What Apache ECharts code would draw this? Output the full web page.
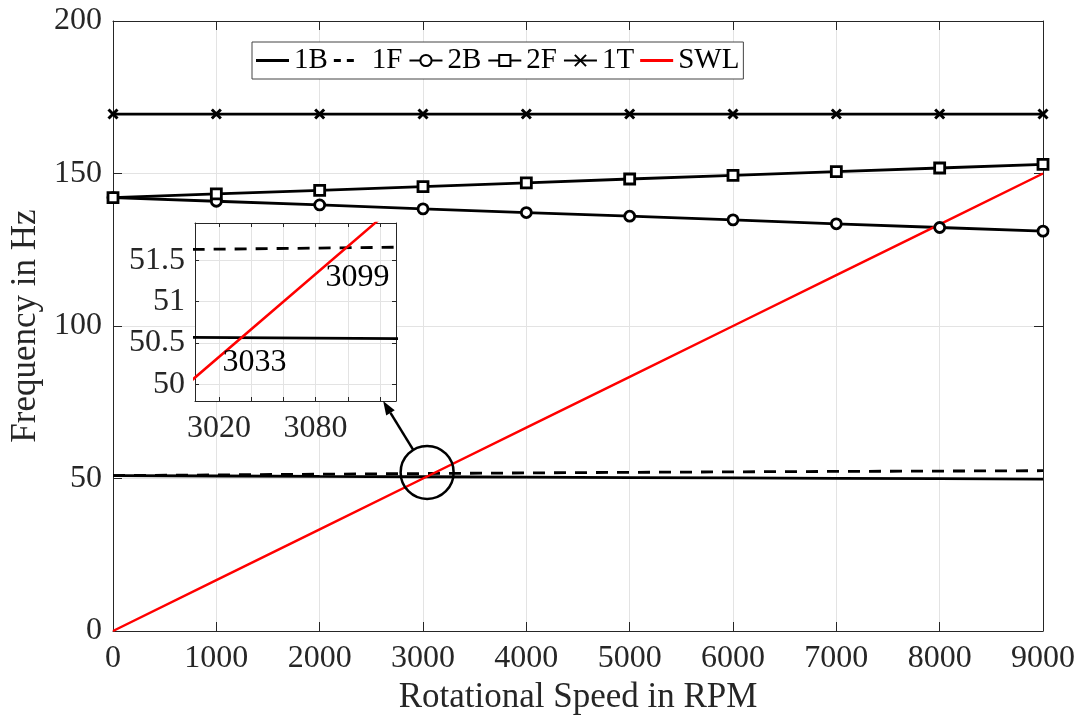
<!DOCTYPE html>
<html>
<head>
<meta charset="utf-8">
<script src="https://cdn.jsdelivr.net/npm/echarts@6/dist/echarts.min.js"></script>
<style>
  html, body { margin: 0; padding: 0; background: #ffffff; }
  #chart { width: 1079px; height: 720px; }
</style>
</head>
<body>
<div id="chart"></div>
<script>
// Campbell diagram: natural frequencies vs rotational speed
const rpm  = [0, 1000, 2000, 3000, 4000, 5000, 6000, 7000, 8000, 9000];
const f1B  = [50.95, 50.82, 50.69, 50.57, 50.44, 50.31, 50.18, 50.06, 49.93, 49.80];
const f1F  = [50.95, 51.18, 51.41, 51.63, 51.84, 52.02, 52.18, 52.32, 52.44, 52.55];
const f2B  = [142.1, 140.9, 139.7, 138.4, 137.2, 136.0, 134.8, 133.5, 132.3, 131.1];
const f2F  = [142.1, 143.3, 144.5, 145.7, 146.9, 148.2, 149.4, 150.6, 151.8, 153.0];
const f1T  = [169.5, 169.5, 169.5, 169.5, 169.5, 169.5, 169.5, 169.5, 169.5, 169.5];
const fSWL = [0, 16.67, 33.33, 50, 66.67, 83.33, 100, 116.67, 133.33, 150];

const seriesNames = ['1B', '1F', '2B', '2F', '1T', 'SWL'];

// zoomed window around the first-mode crossings
const insetXRange  = [3005, 3130];
const insetYRange  = [49.8, 51.95];
const insetXTicks  = [3020, 3040, 3060, 3080, 3100, 3120];
const insetXLabels = [3020, 3080];
const insetYTicks  = [50, 50.5, 51, 51.5];
const crossLabels  = [
  { text: '3033', at: [3042, 50.26] },
  { text: '3099', at: [3106, 51.29] }
];
const zoomCircleCenter = [3040, 52];
const arrowTipAt = [3122, 49.8];

const FONT = '"Liberation Serif", "Times New Roman", serif';
const INK = '#262626';
const GRID = '#e3e3e3';
const DASH = [12, 9];

const pairs = (ys) => rpm.map((x, i) => [x, ys[i]]);
const plain = (v) => String(v);

const crossSym = 'path://M0,0L10,10M10,0L0,10';
// legend swatches for the plain and dashed lines
const solidIcon  = 'path://M0,5.6H33V8.4H0Z';
const dashedIcon = 'path://M0,0Z M33,14Z M0,5.6H7V8.4H0Z M13,5.6H20V8.4H13Z';

function mainAxisX(pos, showLabel) {
  return {
    type: 'value', gridIndex: 0, position: pos, min: 0, max: 9000, interval: 1000,
    axisLine: { show: true, onZero: false, lineStyle: { color: INK, width: 1 } },
    axisTick: { show: true, inside: true, length: 9, lineStyle: { color: INK, width: 1 } },
    axisLabel: { show: showLabel, formatter: plain, color: INK, fontFamily: FONT, fontSize: 32, margin: 12 },
    splitLine: { show: showLabel, lineStyle: { color: GRID, width: 1 } },
    name: showLabel ? 'Rotational Speed in RPM' : '',
    nameLocation: 'middle', nameGap: 32,
    nameTextStyle: { color: INK, fontFamily: FONT, fontSize: 35 }
  };
}
function mainAxisY(pos, showLabel) {
  return {
    type: 'value', gridIndex: 0, position: pos, min: 0, max: 200, interval: 50,
    axisLine: { show: true, onZero: false, lineStyle: { color: INK, width: 1 } },
    axisTick: { show: true, inside: true, length: 9, lineStyle: { color: INK, width: 1 } },
    axisLabel: { show: showLabel, formatter: plain, color: INK, fontFamily: FONT, fontSize: 32, margin: 11 },
    splitLine: { show: showLabel, lineStyle: { color: GRID, width: 1 } },
    name: showLabel ? 'Frequency in Hz' : '',
    nameLocation: 'middle', nameGap: 70, nameRotate: 90,
    nameTextStyle: { color: INK, fontFamily: FONT, fontSize: 35 }
  };
}
function insetAxisX(pos, showLabel) {
  return {
    type: 'value', gridIndex: 1, position: pos, min: insetXRange[0], max: insetXRange[1], z: 3,
    axisLine: { show: true, onZero: false, lineStyle: { color: INK, width: 1 } },
    axisTick: { show: true, inside: true, length: 4, customValues: insetXTicks, lineStyle: { color: INK, width: 1 } },
    axisLabel: { show: showLabel, customValues: insetXLabels, formatter: plain, color: INK, fontFamily: FONT, fontSize: 32, margin: 12 },
    splitLine: { show: showLabel, lineStyle: { color: GRID, width: 1 } }
  };
}
function insetAxisY(pos, showLabel) {
  return {
    type: 'value', gridIndex: 1, position: pos, min: insetYRange[0], max: insetYRange[1], z: 3,
    axisLine: { show: true, onZero: false, lineStyle: { color: INK, width: 1 } },
    axisTick: { show: true, inside: true, length: 4, customValues: insetYTicks, lineStyle: { color: INK, width: 1 } },
    axisLabel: { show: showLabel, customValues: insetYTicks, formatter: plain, color: INK, fontFamily: FONT, fontSize: 32, margin: 10 },
    splitLine: { show: showLabel, lineStyle: { color: GRID, width: 1 } }
  };
}

const lineBase = { type: 'line', animation: false, clip: true, z: 4 };

const mainSeries = [
  Object.assign({}, lineBase, { name: '1B', data: pairs(f1B), symbol: 'none',
    lineStyle: { color: '#000', width: 2.8 }, itemStyle: { color: '#000' } }),
  Object.assign({}, lineBase, { name: '1F', data: pairs(f1F), symbol: 'none',
    lineStyle: { color: '#000', width: 2.8, type: DASH }, itemStyle: { color: '#000' } }),
  Object.assign({}, lineBase, { name: '2B', data: pairs(f2B), symbol: 'circle', symbolSize: 10,
    lineStyle: { color: '#000', width: 2.8 }, itemStyle: { color: '#fff', borderColor: '#000', borderWidth: 2.8 } }),
  Object.assign({}, lineBase, { name: '2F', data: pairs(f2F), symbol: 'rect', symbolSize: 10,
    lineStyle: { color: '#000', width: 2.8 }, itemStyle: { color: '#fff', borderColor: '#000', borderWidth: 2.8 } }),
  Object.assign({}, lineBase, { name: '1T', data: pairs(f1T), symbol: crossSym, symbolSize: 9,
    lineStyle: { color: '#000', width: 2.8 }, itemStyle: { color: '#000', borderColor: '#000', borderWidth: 3 } }),
  Object.assign({}, lineBase, { name: 'SWL', data: pairs(fSWL), symbol: 'none',
    lineStyle: { color: '#ff0000', width: 2.5 }, itemStyle: { color: '#ff0000' } })
];
mainSeries.forEach(s => { s.xAxisIndex = 0; s.yAxisIndex = 0; });

const insetSeries = [
  Object.assign({}, lineBase, { name: '1B', data: pairs(f1B), symbol: 'none', xAxisIndex: 2, yAxisIndex: 2, z: 6,
    lineStyle: { color: '#000', width: 2.8 } }),
  Object.assign({}, lineBase, { name: '1F', data: pairs(f1F), symbol: 'none', xAxisIndex: 2, yAxisIndex: 2, z: 6,
    lineStyle: { color: '#000', width: 2.8, type: DASH } }),
  Object.assign({}, lineBase, { name: 'SWL', data: pairs(fSWL), symbol: 'none', xAxisIndex: 2, yAxisIndex: 2, z: 6,
    lineStyle: { color: '#ff0000', width: 2.5 } })
];

const chart = echarts.init(document.getElementById('chart'), null, { renderer: 'canvas' });

chart.setOption({
  animation: false,
  backgroundColor: '#ffffff',
  textStyle: { fontFamily: FONT },
  grid: [
    { left: 109, right: 36, top: 21, bottom: 89, containLabel: false },
    { left: 195, top: 223, width: 201, height: 178, show: true, backgroundColor: '#ffffff',
      borderWidth: 0, z: 2 }
  ],
  xAxis: [mainAxisX('bottom', true), mainAxisX('top', false), insetAxisX('bottom', true), insetAxisX('top', false)],
  yAxis: [mainAxisY('left', true), mainAxisY('right', false), insetAxisY('left', true), insetAxisY('right', false)],
  legend: {
    data: [
      { name: '1B', icon: solidIcon },
      { name: '1F', icon: dashedIcon },
      { name: '2B' },
      { name: '2F' },
      { name: '1T' },
      { name: 'SWL', icon: solidIcon }
    ],
    left: 252, top: 42,
    itemWidth: 33, itemHeight: 14, itemGap: 6,
    padding: [4, 4, 4, 4],
    backgroundColor: '#ffffff',
    borderColor: '#444444', borderWidth: 1, borderRadius: 0,
    textStyle: { color: '#000', fontFamily: FONT, fontSize: 29 },
    selectedMode: false
  },
  series: mainSeries.concat(insetSeries)
});

// Annotations placed through the axes' own scales
function annotate() {
  const c = chart.convertToPixel({ xAxisIndex: 0, yAxisIndex: 0 }, zoomCircleCenter);
  const tip = chart.convertToPixel({ xAxisIndex: 2, yAxisIndex: 2 }, arrowTipAt);
  const r = 26.5;
  const dx = tip[0] - c[0], dy = tip[1] - c[1];
  const len = Math.sqrt(dx * dx + dy * dy);
  const ux = dx / len, uy = dy / len;
  const start = [c[0] + ux * r, c[1] + uy * r];
  const headLen = 14, headHalf = 5;
  const base = [tip[0] - ux * headLen, tip[1] - uy * headLen];
  const px = -uy, py = ux;
  const elements = [
    { type: 'circle', z: 100, shape: { cx: c[0], cy: c[1], r: r },
      style: { fill: 'none', stroke: '#000', lineWidth: 2.5 } },
    { type: 'line', z: 100, shape: { x1: start[0], y1: start[1], x2: base[0], y2: base[1] },
      style: { stroke: '#000', lineWidth: 2.5 } },
    { type: 'polygon', z: 100, shape: { points: [tip, [base[0] + px * headHalf, base[1] + py * headHalf], [base[0] - px * headHalf, base[1] - py * headHalf]] },
      style: { fill: '#000' } }
  ];
  crossLabels.forEach(l => {
    const p = chart.convertToPixel({ xAxisIndex: 2, yAxisIndex: 2 }, l.at);
    elements.push({ type: 'text', z: 100, x: p[0], y: p[1],
      style: { text: l.text, fill: '#000', fontFamily: FONT, fontSize: 32, align: 'center', verticalAlign: 'middle' } });
  });
  chart.setOption({ graphic: { elements: elements } });
}
annotate();
</script>
</body>
</html>
